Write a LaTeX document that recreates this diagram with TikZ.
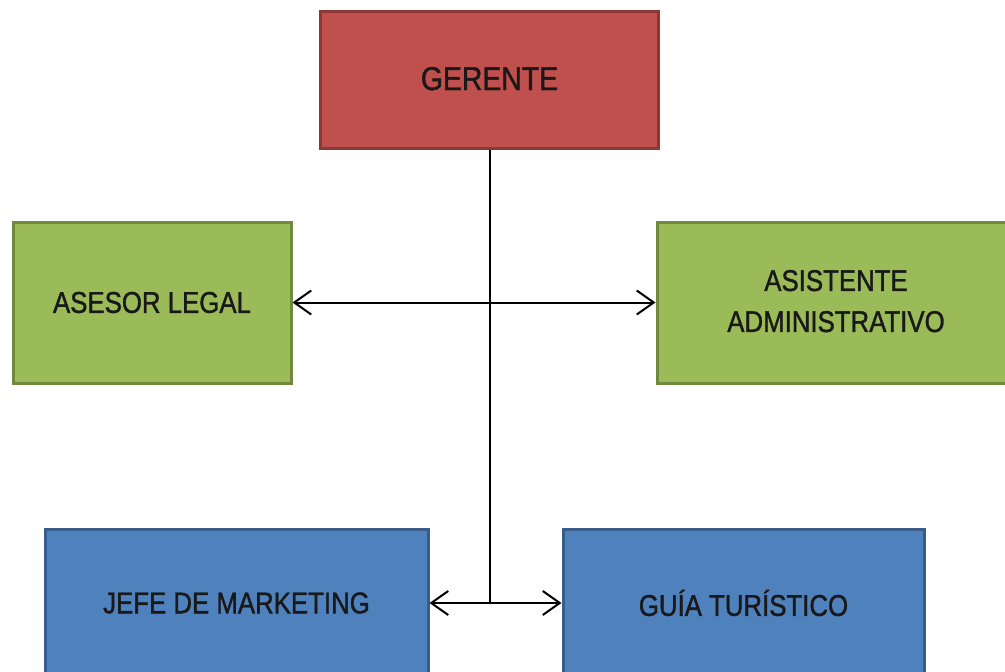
\documentclass[tikz,border=0pt]{standalone}
\usepackage{fontspec}
\setmainfont{Liberation Sans}[FakeStretch=0.86,FakeBold=1.2]
\usetikzlibrary{arrows.meta}
\definecolor{redfill}{HTML}{C0504D}
\definecolor{redline}{HTML}{8C3836}
\definecolor{greenfill}{HTML}{9BBB59}
\definecolor{greenline}{HTML}{71893F}
\definecolor{bluefill}{HTML}{4F81BD}
\definecolor{blueline}{HTML}{385D8A}
\tikzset{
  box/.style={rectangle, line width=3pt, inner sep=0pt, align=center,
    font=\fontsize{30}{41}\selectfont, text=black!90},
  redbox/.style={box, fill=redfill, draw=redline},
  greenbox/.style={box, fill=greenfill, draw=greenline},
  bluebox/.style={box, fill=bluefill, draw=blueline},
  conn/.style={line width=2pt, black},
  biarrow/.style={conn, {Straight Barb[length=17pt,width=24pt,line width=2pt]}-{Straight Barb[length=17pt,width=24pt,line width=2pt]}}
}
\begin{document}
\begin{tikzpicture}[x=1pt,y=-1pt]
\useasboundingbox (0,0) rectangle (1005,672);
\clip (0,0) rectangle (1005,672);
\fill[white] (0,0) rectangle (1005,672);
\node[redbox, minimum width=338pt, minimum height=137pt, font=\fontsize{33}{41}\selectfont] (ger) at (489.5,79.5) {\raisebox{2pt}{GERENTE}};
\node[greenbox, minimum width=278pt, minimum height=161pt] (ase) at (152,302.5) {ASESOR LEGAL};
\node[greenbox, minimum width=358pt, minimum height=161pt] (asi) at (836,302.5) {\raisebox{3pt}{ASISTENTE}\\\raisebox{3pt}{ADMINISTRATIVO}};
\node[bluebox, minimum width=383pt, minimum height=148pt] (jefe) at (236.5,603) {JEFE DE MARKETING};
\node[bluebox, minimum width=361pt, minimum height=148pt] (guia) at (743.5,603) {GUÍA TURÍSTICO};
\coordinate (mid) at (ger.south |- jefe.east);
\draw[conn] (ger.south) -- (mid);
\draw[biarrow] (ase.east) -- (asi.west);
\draw[biarrow] (jefe.east) -- (guia.west);
\end{tikzpicture}
\end{document}
